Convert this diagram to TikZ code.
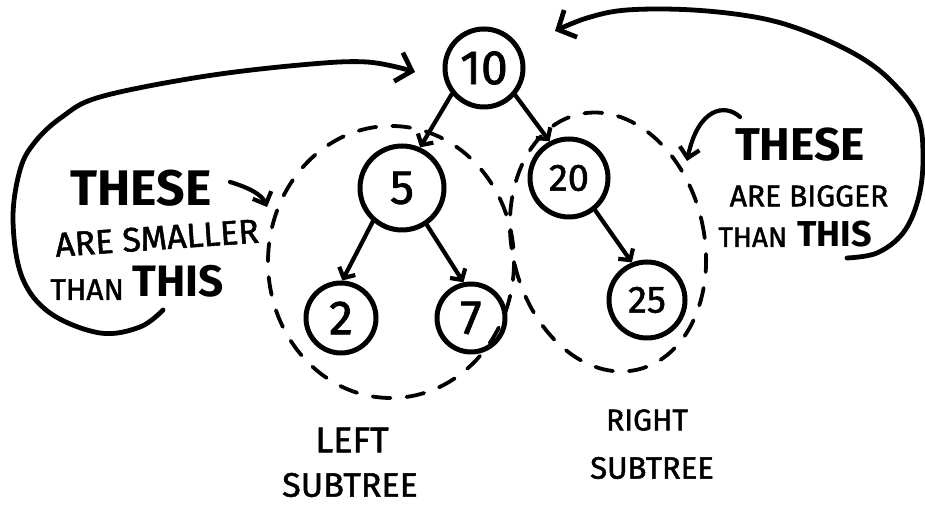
\documentclass[tikz,border=0pt]{standalone}
\usepackage{fontspec}
\setmainfont{Fira Sans}
\newfontfamily\handfont{Fira Sans}[FakeBold=1.5]
\usetikzlibrary{arrows.meta}
\begin{document}
\begin{tikzpicture}[x=0.5pt,y=-0.5pt,
  tnode/.style={circle, draw, line width=2.5pt, inner sep=0pt, font=\handfont\fontsize{24}{24}\selectfont},
  tedge/.style={line width=2.1pt, line cap=round, -{Straight Barb[length=4pt,width=9pt]}},
  dashring/.style={line width=1.9pt, line cap=round, dash pattern=on 9pt off 8pt},
  bigarrow/.style={line width=2.4pt, line cap=round, -{Straight Barb[length=7pt,width=15pt]}},
  smallarrow/.style={line width=2.1pt, line cap=round, -{Straight Barb[length=5pt,width=10pt]}},
  bigtxt/.style={font=\bfseries\fontsize{25}{25}\selectfont, inner sep=0pt},
  midtxt/.style={font=\handfont\fontsize{17}{17}\selectfont, inner sep=0pt},
  subtxt/.style={font=\handfont\fontsize{17}{17}\selectfont, inner sep=0pt}]
\useasboundingbox (0,0) rectangle (925,506);

% tree nodes
\node[tnode, minimum size=39pt] (n10) at (484,68) {10};
\node[tnode, minimum size=42pt] (n5) at (402,188) {5};
\node[tnode, minimum size=39pt, font=\handfont\fontsize{19}{19}\selectfont] (n20) at (569,178) {20};
\node[tnode, minimum size=35pt] (n2) at (341,318) {2};
\node[tnode, minimum size=34pt] (n7) at (471,318) {7};
\node[tnode, minimum size=38pt, font=\handfont\fontsize{19}{19}\selectfont] (n25) at (647,300) {25};

% tree edges
\draw[tedge] (n10.219) -- (n5.66);
\draw[tedge] (n10.319) -- (n20.118);
\draw[tedge] (n5.229) -- (n2.88);
\draw[tedge] (n5.304) -- (n7.102);
\draw[tedge] (n20.309) -- (n25.112);

% dashed subtree rings
\draw[dashring] (391,262) ellipse [x radius=123, y radius=136];
\draw[dashring, rotate around={13:(608,242)}] (608,242) ellipse [x radius=96, y radius=131];

% left text
\node[bigtxt] (lthese) at (141,188) {THESE};
\node[midtxt, rotate=4] (lare) at (157,238) {ARE SMALLER};
\node[midtxt, anchor=base west, font=\handfont\fontsize{15}{15}\selectfont] (lthan) at (50,300) {THAN};
\node[bigtxt, anchor=base west, font=\bfseries\fontsize{22}{22}\selectfont] (lthis) at (132,297) {THIS};

% right text
\node[bigtxt, font=\bfseries\fontsize{23}{23}\selectfont] (rthese) at (800,145) {THESE};
\node[midtxt, font=\handfont\fontsize{15}{15}\selectfont] (rare) at (809,196) {ARE BIGGER};
\node[midtxt, anchor=base west, font=\handfont\fontsize{14}{14}\selectfont] (rthan) at (718,247) {THAN};
\node[bigtxt, anchor=base west, font=\bfseries\fontsize{18}{18}\selectfont] (rthis) at (797,247) {THIS};

% bottom labels
\node[subtxt, font=\handfont\fontsize{18}{18}\selectfont] (left) at (352,440) {LEFT};
\node[subtxt] (lsub) at (350,485) {SUBTREE};
\node[subtxt, font=\handfont\fontsize{15}{15}\selectfont] (right) at (647,420) {RIGHT};
\node[subtxt, font=\handfont\fontsize{15.5}{15.5}\selectfont] (rsub) at (652,468) {SUBTREE};

% small arrows
\coordinate (la1) at (230,182);
\coordinate (la2) at (267,207);
\draw[smallarrow] (la1) .. controls (250,188) and (262,195) .. (la2);
\coordinate (ra1) at (740,117);
\coordinate (ra2) at (687,161);
\draw[smallarrow] (ra1) .. controls (725,103) and (698,108) .. (ra2);

% big arrows
\draw[bigarrow] plot[smooth, tension=0.6] coordinates {(163,310) (140,327) (100,333) (50,313) (22,277) (13,220) (20,170) (35,142) (62,117) (100,97) (200,77) (300,65) (367,62) (415,72)};
\draw[bigarrow] plot[smooth, tension=0.6] coordinates {(847,258) (877,253) (903,233) (918,200) (923,160) (918,117) (893,83) (860,57) (810,33) (760,18) (693,10) (627,10) (587,18) (555,31)};
\end{tikzpicture}
\end{document}
